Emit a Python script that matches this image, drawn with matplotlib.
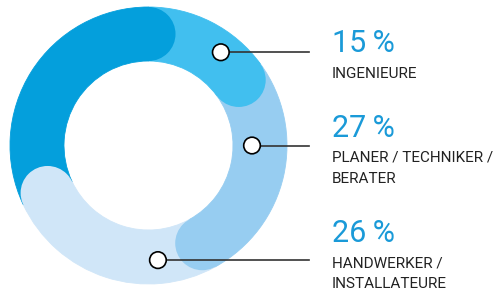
import numpy as np
import matplotlib.pyplot as plt
from matplotlib.patches import Wedge, Circle

# ---------------------------------------------------------
# DATEN
# ---------------------------------------------------------

anteile = [15, 27, 26, 32]
farben = ["#41bfef", "#97cdf1", "#d0e6f8", "#049fdc"]
prozent_texte = ["15\u2009%", "27\u2009%", "26\u2009%"]
beschriftungen = [["INGENIEURE"],
                  ["PLANER / TECHNIKER /", "BERATER"],
                  ["HANDWERKER /", "INSTALLATEURE"]]

# ---------------------------------------------------------
# LAYOUT (Pixelkoordinaten)
# ---------------------------------------------------------

CX, CY = 148.5, 145.5
R_AUSSEN = 138.5
BREITE = 54
R_MITTE = R_AUSSEN - BREITE / 2

# Markerpositionen: (Winkel im Uhrzeigersinn ab oben, Radius)
marker = [(37.8, 118), (90, 103.5), (175.3, 115)]
LINIE_ENDE = 309
TEXT_X = 332
prozent_y = [52, 137, 242]
label_y = [78, 162, 267]
ZEILENABSTAND = 21

BLAU_TEXT = "#1a9ad8"
GRAU = "#222222"
SCHRIFT = ["Roboto", "DejaVu Sans"]

fig = plt.figure(figsize=(4.99, 2.91), dpi=100)
ax = fig.add_axes([0, 0, 1, 1])
ax.set_xlim(0, 499)
ax.set_ylim(291, 0)
ax.set_aspect("equal")
ax.axis("off")

# Segmente (y-Achse invertiert: Winkel wachsen im Uhrzeigersinn)
start = 0.0
enden = []
for anteil, farbe in zip(anteile, farben):
    winkel = anteil / sum(anteile) * 360
    ax.add_patch(Wedge((CX, CY), R_AUSSEN, start - 90, start + winkel - 90,
                       width=BREITE, facecolor=farbe, edgecolor=farbe,
                       linewidth=0.6, zorder=1))
    enden.append(start + winkel)
    start += winkel

# runde Enden
for ende, farbe in zip(enden, farben):
    t = np.radians(ende - 90)
    ax.add_patch(Circle((CX + R_MITTE * np.cos(t), CY + R_MITTE * np.sin(t)),
                        BREITE / 2, facecolor=farbe, edgecolor="none", zorder=2))

# Marker, Linien, Texte
for (w, r), p, zeilen, py, ly in zip(marker, prozent_texte, beschriftungen, prozent_y, label_y):
    t = np.radians(w - 90)
    mx, my = CX + r * np.cos(t), CY + r * np.sin(t)
    ax.plot([mx, LINIE_ENDE], [my, my], color="#333333", linewidth=1.2, zorder=3)
    ax.add_patch(Circle((mx, my), 8.3, facecolor="white", edgecolor="black",
                        linewidth=1.2, zorder=4))
    ax.text(TEXT_X, py, p, color=BLAU_TEXT, fontsize=22, family=SCHRIFT,
            va="baseline", ha="left")
    for i, zeile in enumerate(zeilen):
        ax.text(TEXT_X, ly + i * ZEILENABSTAND, zeile, color=GRAU, fontsize=11,
                family=SCHRIFT, va="baseline", ha="left")

fig.savefig("out.png", dpi=100)
